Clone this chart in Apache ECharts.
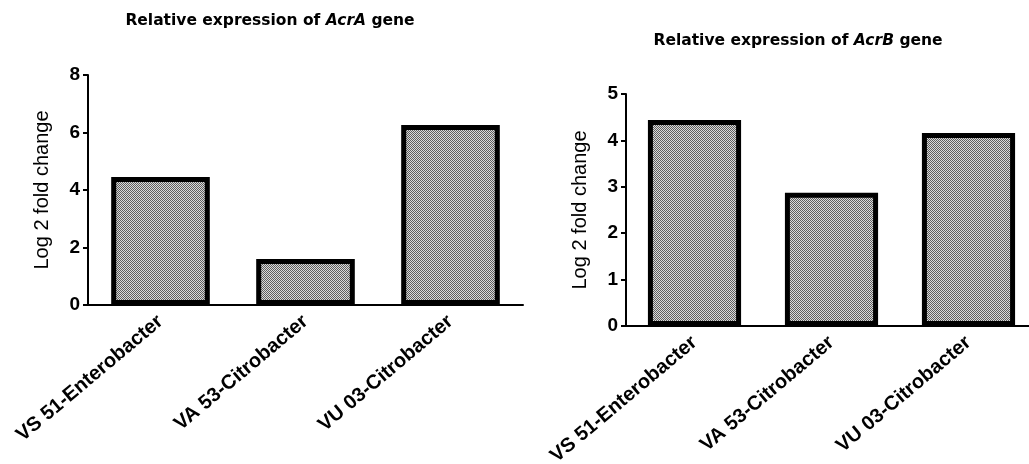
<!DOCTYPE html>
<html>
<head>
<meta charset="utf-8">
<script src="https://cdn.jsdelivr.net/npm/echarts@6/dist/echarts.min.js"></script>
<style>
  html, body { margin: 0; padding: 0; background: #fff; }
  #main { width: 1029px; height: 464px; }
</style>
</head>
<body>
<div id="main"></div>
<script>
var strains = ['VS 51-Enterobacter', 'VA 53-Citrobacter', 'VU 03-Citrobacter'];
var acrAValues = [4.45, 1.6, 6.26];
var acrBValues = [4.44, 2.87, 4.16];
var acrATicks = [0, 2, 4, 6, 8];
var acrBTicks = [0, 1, 2, 3, 4, 5];

// checkered fill like the printed figure
function makePattern() {
    var c = document.createElement('canvas');
    c.width = 2;
    c.height = 2;
    var ctx = c.getContext('2d');
    ctx.fillStyle = '#dadada';
    ctx.fillRect(0, 0, 2, 2);
    ctx.fillStyle = '#5e5e5e';
    ctx.fillRect(0, 0, 1, 1);
    ctx.fillRect(1, 1, 1, 1);
    return c;
}
var pattern = { image: makePattern(), repeat: 'repeat' };

function titleRich() {
    return {
        a: { fontFamily: 'DejaVu Sans', fontWeight: 'bold', fontSize: 15.5, color: '#000' },
        b: { fontFamily: 'DejaVu Sans', fontWeight: 'bold', fontStyle: 'italic', fontSize: 15.5, color: '#000' }
    };
}

function xAxisCfg(idx) {
    return {
        type: 'category',
        gridIndex: idx,
        data: strains,
        axisLine: { lineStyle: { color: '#000', width: 2 } },
        axisTick: { alignWithLabel: true, length: 6, lineStyle: { color: '#000', width: 2 } },
        axisLabel: {
            rotate: 40,
            margin: 14,
            interval: 0,
            color: '#000',
            fontFamily: 'Liberation Sans',
            fontWeight: 'bold',
            fontSize: 20
        }
    };
}

function yAxisCfg(idx, max, interval) {
    return {
        type: 'value',
        gridIndex: idx,
        min: 0,
        max: max,
        interval: interval,
        name: 'Log 2 fold change',
        nameLocation: 'middle',
        nameGap: 36,
        nameTextStyle: { color: '#000', fontFamily: 'Liberation Sans', fontSize: 20 },
        splitLine: { show: false },
        axisLine: { show: true, lineStyle: { color: '#000', width: 2 } },
        axisTick: { show: true, length: 5, lineStyle: { color: '#000', width: 2 } },
        axisLabel: {
            margin: 8,
            color: '#000',
            fontFamily: 'Liberation Sans',
            fontWeight: 'bold',
            fontSize: 19
        }
    };
}

var myChart = echarts.init(document.getElementById('main'));
myChart.setOption({
    animation: false,
    title: [
        { text: '{a|Relative expression of }{b|AcrA}{a| gene}', left: 265, top: 8, textAlign: 'center',
          textStyle: { rich: titleRich() } },
        { text: '{a|Relative expression of }{b|AcrB}{a| gene}', left: 793, top: 28, textAlign: 'center',
          textStyle: { rich: titleRich() } }
    ],
    grid: [
        { left: 88, top: 75, width: 435, height: 230, outerBoundsMode: 'none', containLabel: false },
        { left: 626, top: 94, width: 411, height: 232, outerBoundsMode: 'none', containLabel: false }
    ],
    xAxis: [xAxisCfg(0), xAxisCfg(1)],
    yAxis: [yAxisCfg(0, acrATicks[acrATicks.length - 1], 2), yAxisCfg(1, acrBTicks[acrBTicks.length - 1], 1)],
    series: [
        {
            type: 'bar', xAxisIndex: 0, yAxisIndex: 0, data: acrAValues, barWidth: '68%',
            itemStyle: { color: pattern, borderColor: '#000', borderWidth: 5 }
        },
        {
            type: 'bar', xAxisIndex: 1, yAxisIndex: 1, data: acrBValues, barWidth: '68%',
            itemStyle: { color: pattern, borderColor: '#000', borderWidth: 5 }
        }
    ]
});
</script>
</body>
</html>
